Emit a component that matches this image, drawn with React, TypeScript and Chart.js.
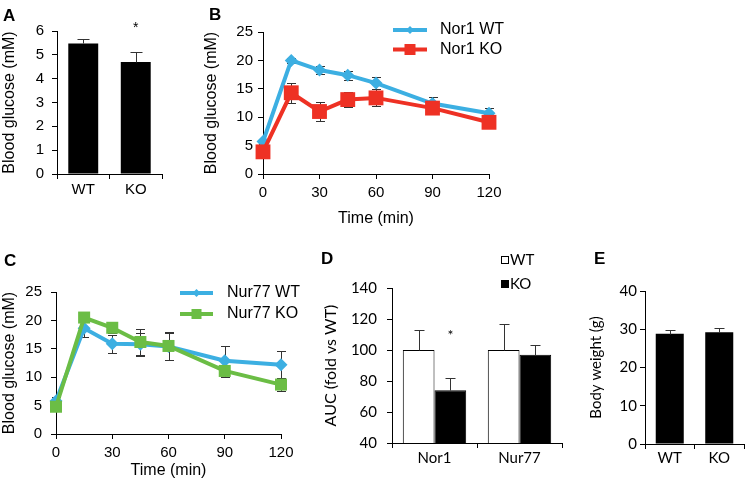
import React, { useEffect, useRef } from 'react';
import { Chart, registerables } from 'chart.js';

Chart.register(...registerables);

// ---------- DATA ----------
// Panel A: fasting blood glucose
const groupsA = ['WT', 'KO'];
const fastingGlucose = [5.48, 4.7];
const fastingGlucoseErr = [0.2, 0.4];
const sigIndexA = [1];
const sigValueA = [6.3];

// Panel B: Nor1 glucose tolerance
const timePoints = [0, 15, 30, 45, 60, 90, 120];
const nor1WT = [5.7, 20.0, 18.3, 17.4, 16.0, 12.4, 10.7];
const nor1WTErr = [0.4, 0.5, 0.7, 0.8, 1.1, 1.1, 1.0];
const nor1KO = [3.9, 14.3, 11.0, 13.1, 13.4, 11.6, 9.1];
const nor1KOErr = [0.8, 1.8, 1.6, 1.3, 1.5, 1.0, 0.5];

// Panel C: Nur77 glucose tolerance
const nur77WT = [5.8, 18.6, 15.9, 15.8, 15.4, 12.9, 12.2];
const nur77WTErr = [0.8, 1.5, 1.6, 2.0, 2.4, 2.6, 2.5];
const nur77KO = [4.8, 20.5, 18.7, 16.2, 15.5, 11.1, 8.7];
const nur77KOErr = [0.6, 0.8, 1.0, 2.3, 2.5, 1.0, 1.2];

// Panel D: AUC
const groupsD = ['Nor1', 'Nur77'];
const aucWT = [100, 100];
const aucWTErr = [13, 17];
const aucKO = [74, 97];
const aucKOErr = [8, 6];
const sigIndexD = [0];
const sigValueD = [111.8];

// Panel E: body weight
const groupsE = ['WT', 'KO'];
const bodyWeight = [28.8, 29.2];
const bodyWeightErr = [1.0, 1.1];

// ---------- STYLE ----------
const SANS = '"Liberation Sans", Arial, sans-serif';
const HUM = 'Lato, "Open Sans", sans-serif';
const BLUE = '#3CAFE2';
const RED = '#EE3124';
const GREEN = '#6BBD45';

Chart.defaults.font.family = SANS;
Chart.defaults.color = '#000';

function drawErrorBars(chart: any, cap: number) {
  const ctx = chart.ctx;
  chart.data.datasets.forEach((ds: any, di: number) => {
    const errs = ds.errorBars;
    if (!errs) return;
    const meta = chart.getDatasetMeta(di);
    const yScale = chart.scales[meta.yAxisID];
    ctx.save();
    ctx.strokeStyle = '#333';
    ctx.lineWidth = 1;
    meta.data.forEach((el: any, i: number) => {
      const raw = ds.data[i];
      const v = typeof raw === 'number' ? raw : raw.y;
      const e = errs[i];
      const x = Math.round(el.x) + 0.5;
      const yTop = Math.round(yScale.getPixelForValue(v + e)) + 0.5;
      const both = ds.errorMode === 'both';
      const yBot = Math.round(yScale.getPixelForValue(both ? v - e : v)) + 0.5;
      const h = cap / 2;
      ctx.beginPath();
      ctx.moveTo(x, yTop);
      ctx.lineTo(x, yBot);
      ctx.moveTo(x - h, yTop);
      ctx.lineTo(x + h, yTop);
      if (both) {
        ctx.moveTo(x - h, yBot);
        ctx.lineTo(x + h, yBot);
      }
      ctx.stroke();
    });
    ctx.restore();
  });
}

function errorBarPlugin(cap: number, behind: boolean) {
  return behind
    ? { id: 'errorBars', beforeDatasetsDraw(chart: any) { drawErrorBars(chart, cap); } }
    : { id: 'errorBars', afterDatasetsDraw(chart: any) { drawErrorBars(chart, cap); } };
}

function sigPlugin(datasetIndex: number, idx: number[], vals: number[], font: string, size: number) {
  return {
    id: 'sigMarks',
    afterDatasetsDraw(chart: any) {
      const ctx = chart.ctx;
      const meta = chart.getDatasetMeta(datasetIndex);
      const yScale = chart.scales[meta.yAxisID];
      ctx.save();
      ctx.fillStyle = '#000';
      ctx.font = `${size}px ${font}`;
      ctx.textAlign = 'center';
      ctx.textBaseline = 'alphabetic';
      idx.forEach((k, j) => {
        const el = meta.data[k];
        const y = yScale.getPixelForValue(vals[j]);
        ctx.fillText('*', el.x, y + size * 0.58);
      });
      ctx.restore();
    },
  };
}

function lineLegendPlugin(cfg: { x: number; y: number; gap: number; len: number; textX: number; marker: number[]; font: string }) {
  return {
    id: 'lineLegend',
    afterDraw(chart: any) {
      const ctx = chart.ctx;
      chart.data.datasets.forEach((ds: any, i: number) => {
        const y = cfg.y + i * cfg.gap;
        ctx.save();
        ctx.strokeStyle = ds.borderColor;
        ctx.lineWidth = ds.borderWidth;
        ctx.beginPath();
        ctx.moveTo(cfg.x, y);
        ctx.lineTo(cfg.x + cfg.len, y);
        ctx.stroke();
        const cx = cfg.x + cfg.len / 2;
        const s = cfg.marker[i];
        ctx.fillStyle = ds.backgroundColor;
        if (ds.pointStyle === 'rect') {
          ctx.fillRect(cx - s / 2, y - s / 2, s, s);
        } else {
          ctx.beginPath();
          ctx.moveTo(cx, y - s / 2);
          ctx.lineTo(cx + s / 2, y);
          ctx.lineTo(cx, y + s / 2);
          ctx.lineTo(cx - s / 2, y);
          ctx.closePath();
          ctx.fill();
        }
        ctx.fillStyle = '#000';
        ctx.font = cfg.font;
        ctx.textAlign = 'left';
        ctx.textBaseline = 'middle';
        ctx.fillText(ds.label, cfg.textX, y);
        ctx.restore();
      });
    },
  };
}

function boxLegendPlugin(cfg: { x: number; y: number; gap: number; size: number; textX: number; font: string }) {
  return {
    id: 'boxLegend',
    afterDraw(chart: any) {
      const ctx = chart.ctx;
      chart.data.datasets.forEach((ds: any, i: number) => {
        const y = cfg.y + i * cfg.gap;
        ctx.save();
        ctx.fillStyle = ds.backgroundColor;
        ctx.fillRect(cfg.x, y - cfg.size / 2, cfg.size, cfg.size);
        ctx.strokeStyle = '#000';
        ctx.lineWidth = 1;
        ctx.strokeRect(cfg.x + 0.5, y - cfg.size / 2 + 0.5, cfg.size - 1, cfg.size - 1);
        ctx.fillStyle = '#000';
        ctx.font = cfg.font;
        ctx.textAlign = 'left';
        ctx.textBaseline = 'middle';
        ctx.fillText(ds.label, cfg.textX, y);
        ctx.restore();
      });
    },
  };
}

const axisGrid = { drawOnChartArea: false, drawTicks: true, tickLength: 5, color: '#000', lineWidth: 1 };
const axisBorder = { display: true, color: '#000', width: 1 };

function baseOptions(padding: any) {
  return {
    responsive: false,
    maintainAspectRatio: false,
    animation: false as const,
    events: [] as any[],
    devicePixelRatio: 1,
    layout: { padding },
    plugins: { legend: { display: false }, tooltip: { enabled: false } },
  };
}

// ---------- CONFIGS ----------
function configA(): any {
  return {
    type: 'bar',
    data: {
      labels: groupsA,
      datasets: [
        {
          data: fastingGlucose,
          backgroundColor: '#000',
          borderWidth: 0,
          errorBars: fastingGlucoseErr,
          errorMode: 'up',
          categoryPercentage: 1,
          barPercentage: 0.57,
        },
      ],
    },
    options: {
      ...baseOptions({ left: 0, top: 31, right: 13, bottom: 0 }),
      scales: {
        x: {
          grid: axisGrid,
          border: axisBorder,
          ticks: { font: { family: SANS, size: 15 }, color: '#000', padding: 2 },
          afterFit: (s: any) => { s.height = 31; },
        },
        y: {
          min: 0,
          max: 6,
          grid: axisGrid,
          border: axisBorder,
          ticks: { stepSize: 1, font: { family: SANS, size: 15 }, color: '#000', padding: 8 },
          title: { display: true, text: 'Blood glucose (mM)', font: { family: SANS, size: 16 }, color: '#000', padding: { top: 0, bottom: 0 } },
          afterFit: (s: any) => { s.width = 57; },
        },
      },
    },
    plugins: [errorBarPlugin(12, false), sigPlugin(0, sigIndexA, sigValueA, SANS, 14)],
  };
}

function lineConfig(
  wt: number[], wtErr: number[], ko: number[], koErr: number[],
  labels: string[], koColor: string, koRadius: number,
  padding: any, yWidth: number, xHeight: number, yTickPad: number, xTickPad: number,
  yTitlePad: number, xTitlePad: number, legend: any
): any {
  return {
    type: 'line',
    data: {
      datasets: [
        {
          label: labels[0],
          data: wt.map((v, i) => ({ x: timePoints[i], y: v })),
          borderColor: BLUE,
          backgroundColor: BLUE,
          borderWidth: 4,
          pointStyle: 'rectRot',
          pointRadius: 6.5,
          pointBorderWidth: 0,
          tension: 0,
          clip: false,
          order: 1,
          errorBars: wtErr,
          errorMode: 'both',
        },
        {
          label: labels[1],
          data: ko.map((v, i) => ({ x: timePoints[i], y: v })),
          borderColor: koColor,
          backgroundColor: koColor,
          borderWidth: 4,
          pointStyle: 'rect',
          pointRadius: koRadius,
          pointBorderWidth: 0,
          tension: 0,
          clip: false,
          order: 0,
          errorBars: koErr,
          errorMode: 'both',
        },
      ],
    },
    options: {
      ...baseOptions(padding),
      scales: {
        x: {
          type: 'linear',
          min: 0,
          max: 120,
          grid: axisGrid,
          border: axisBorder,
          ticks: { stepSize: 30, font: { family: SANS, size: 15 }, color: '#000', padding: xTickPad },
          title: { display: true, text: 'Time (min)', font: { family: SANS, size: 16 }, color: '#000', padding: { top: 0, bottom: xTitlePad } },
          afterFit: (s: any) => { s.height = xHeight; },
        },
        y: {
          min: 0,
          max: 25,
          grid: axisGrid,
          border: axisBorder,
          ticks: { stepSize: 5, font: { family: SANS, size: 15 }, color: '#000', padding: yTickPad },
          title: { display: true, text: 'Blood glucose (mM)', font: { family: SANS, size: 16 }, color: '#000', padding: { top: yTitlePad, bottom: 0 } },
          afterFit: (s: any) => { s.width = yWidth; },
        },
      },
    },
    plugins: [errorBarPlugin(9, true), lineLegendPlugin(legend)],
  };
}

function configB(): any {
  return lineConfig(
    nor1WT, nor1WTErr, nor1KO, nor1KOErr, ['Nor1 WT', 'Nor1 KO'], RED, 10.5,
    { left: 0, top: 32, right: 21, bottom: 0 }, 63, 61, 5, 5, 2, 7,
    { x: 193, y: 30, gap: 19.5, len: 34, textX: 240, marker: [8, 11], font: `16px ${SANS}` }
  );
}

function configC(): any {
  return lineConfig(
    nur77WT, nur77WTErr, nur77KO, nur77KOErr, ['Nur77 WT', 'Nur77 KO'], GREEN, 8.5,
    { left: 0, top: 52, right: 19, bottom: 0 }, 56, 46, 9, 5, 0, 0,
    { x: 180, y: 53, gap: 21, len: 33, textX: 227, marker: [8, 10], font: `16px ${SANS}` }
  );
}

function configD(): any {
  return {
    type: 'bar',
    data: {
      labels: groupsD,
      datasets: [
        {
          label: 'WT',
          data: aucWT,
          backgroundColor: '#fff',
          borderColor: '#000',
          borderWidth: 1,
          errorBars: aucWTErr,
          errorMode: 'up',
          categoryPercentage: 0.746,
          barPercentage: 1,
        },
        {
          label: 'KO',
          data: aucKO,
          backgroundColor: '#000',
          borderColor: '#000',
          borderWidth: 1,
          errorBars: aucKOErr,
          errorMode: 'up',
          categoryPercentage: 0.746,
          barPercentage: 1,
        },
      ],
    },
    options: {
      ...baseOptions({ left: 0, top: 43, right: 8, bottom: 0 }),
      scales: {
        x: {
          grid: axisGrid,
          border: axisBorder,
          ticks: { font: { family: HUM, size: 15 }, color: '#000', padding: 1 },
          afterFit: (s: any) => { s.height = 37; },
        },
        y: {
          min: 40,
          max: 140,
          grid: axisGrid,
          border: axisBorder,
          ticks: { stepSize: 20, font: { family: HUM, size: 15 }, color: '#000', padding: 10 },
          title: { display: true, text: 'AUC (fold vs WT)', font: { family: HUM, size: 16 }, color: '#000', padding: { top: 1, bottom: 0 } },
          afterFit: (s: any) => { s.width = 72; },
        },
      },
    },
    plugins: [
      errorBarPlugin(10, false),
      sigPlugin(1, sigIndexD, sigValueD, HUM, 14),
      boxLegendPlugin({ x: 181, y: 15, gap: 24, size: 8, textX: 190, font: `15px ${HUM}` }),
    ],
  };
}

function configE(): any {
  return {
    type: 'bar',
    data: {
      labels: groupsE,
      datasets: [
        {
          data: bodyWeight,
          backgroundColor: '#000',
          borderWidth: 0,
          errorBars: bodyWeightErr,
          errorMode: 'up',
          categoryPercentage: 1,
          barPercentage: 0.566,
        },
      ],
    },
    options: {
      ...baseOptions({ left: 0, top: 46, right: 1, bottom: 0 }),
      scales: {
        x: {
          grid: axisGrid,
          border: axisBorder,
          ticks: { font: { family: HUM, size: 15 }, color: '#000', padding: 0 },
          afterFit: (s: any) => { s.height = 36; },
        },
        y: {
          min: 0,
          max: 40,
          grid: axisGrid,
          border: axisBorder,
          ticks: { stepSize: 10, font: { family: HUM, size: 15 }, color: '#000', padding: 3 },
          title: { display: true, text: 'Body weight (g)', font: { family: HUM, size: 15 }, color: '#000', padding: { top: 12, bottom: 0 } },
          afterFit: (s: any) => { s.width = 70; },
        },
      },
    },
    plugins: [errorBarPlugin(10, false)],
  };
}

// ---------- COMPONENTS ----------
function ChartBox(props: { left: number; top: number; width: number; height: number; make: () => any }) {
  const ref = useRef<HTMLCanvasElement | null>(null);
  useEffect(() => {
    if (!ref.current) return;
    const chart = new Chart(ref.current, props.make());
    return () => chart.destroy();
  }, []);
  return (
    <div style={{ position: 'absolute', left: props.left, top: props.top, width: props.width, height: props.height }}>
      <canvas ref={ref} width={props.width} height={props.height} style={{ display: 'block', width: props.width, height: props.height }} />
    </div>
  );
}

function PanelLetter(props: { text: string; left: number; top: number }) {
  return (
    <div
      style={{
        position: 'absolute',
        left: props.left,
        top: props.top,
        font: `bold 17px ${SANS}`,
        lineHeight: '17px',
        color: '#000',
      }}
    >
      {props.text}
    </div>
  );
}

export default function App() {
  return (
    <div style={{ position: 'absolute', left: 0, top: 0, width: 745, height: 480, background: '#fff', overflow: 'hidden' }}>
      <ChartBox left={0} top={0} width={175} height={205} make={configA} />
      <ChartBox left={200} top={0} width={310} height={235} make={configB} />
      <ChartBox left={0} top={240} width={300} height={240} make={configC} />
      <ChartBox left={320} top={245} width={250} height={235} make={configD} />
      <ChartBox left={575} top={245} width={170} height={235} make={configE} />
      <PanelLetter text="A" left={3} top={7} />
      <PanelLetter text="B" left={209} top={6} />
      <PanelLetter text="C" left={4} top={252} />
      <PanelLetter text="D" left={321} top={250} />
      <PanelLetter text="E" left={594} top={250} />
    </div>
  );
}
